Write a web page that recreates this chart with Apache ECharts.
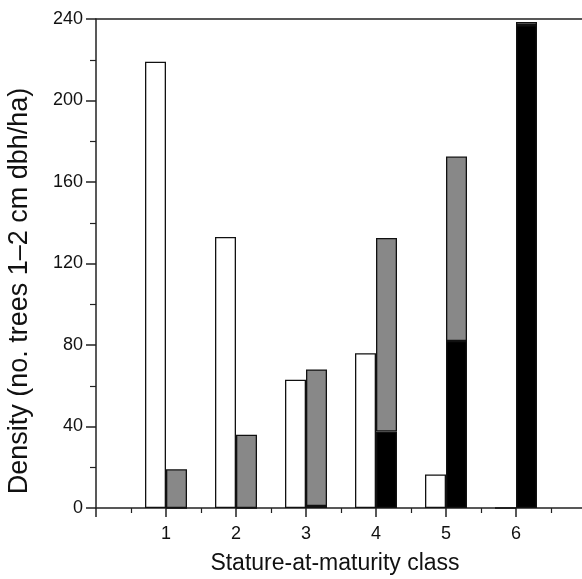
<!DOCTYPE html>
<html>
<head>
<meta charset="utf-8">
<script src="https://cdn.jsdelivr.net/npm/echarts@6/dist/echarts.min.js"></script>
<style>
  html, body { margin: 0; padding: 0; background: #fff; }
  #grafico { width: 582px; height: 579px; }
</style>
</head>
<body>
<div id="grafico"></div>
<script>
// classes de porte na maturidade
var classes = [1, 2, 3, 4, 5, 6];
// barras brancas (esquerda)
var valoresBrancos = [219, 133, 63, 76, 16.5, 0];
// barra empilhada (direita): parte preta embaixo, cinza em cima
var valoresPretos = [0, 0, 1, 37.5, 82, 237];
var valoresCinzas = [19, 36, 67, 95, 90.5, 1.5];
var yTicks = [0, 40, 80, 120, 160, 200, 240];

var deslocamento = 0.15; // metade da largura de cada barra, em unidades de classe

function montaDados(valores, lado) {
    // [valor, posição]: o valor vem primeiro para o stack acontecer no eixo y
    return classes.map(function (c, i) {
        return [valores[i], c + lado * deslocamento];
    });
}

var myChart = echarts.init(document.getElementById('grafico'));

var fonte = 'Liberation Sans, Arial, sans-serif';
var corEixo = '#222';

var option = {
    animation: false,
    textStyle: { fontFamily: fonte, color: '#111' },
    grid: { left: 96, top: 19, width: 490, height: 489, outerBoundsMode: 'none', containLabel: false },
    xAxis: [{
        type: 'value',
        min: 0,
        max: 7,
        interval: 1,
        position: 'bottom',
        axisLine: { show: true, lineStyle: { color: corEixo, width: 1.5 } },
        axisTick: { show: true, length: 9, lineStyle: { color: corEixo, width: 1.5 } },
        minorTick: { show: true, splitNumber: 2, length: 5, lineStyle: { color: corEixo, width: 1.2 } },
        splitLine: { show: false },
        axisLabel: {
            margin: 17,
            fontSize: 18,
            color: '#111',
            formatter: function (v) { return classes.indexOf(v) >= 0 ? String(v) : ''; }
        }
    }, {
        type: 'value',
        min: 0,
        max: 7,
        position: 'top',
        axisLine: { show: true, lineStyle: { color: corEixo, width: 1.5 } },
        axisTick: { show: false },
        axisLabel: { show: false },
        splitLine: { show: false }
    }],
    yAxis: {
        type: 'value',
        min: yTicks[0],
        max: yTicks[yTicks.length - 1],
        interval: 40,
        axisLine: { show: true, lineStyle: { color: corEixo, width: 1.5 } },
        axisTick: { show: true, length: 10, lineStyle: { color: corEixo, width: 1.5 } },
        minorTick: { show: true, splitNumber: 2, length: 6, lineStyle: { color: corEixo, width: 1.2 } },
        splitLine: { show: false },
        axisLabel: { margin: 13, fontSize: 18, color: '#111' }
    },
    graphic: [{
        type: 'text',
        x: 335,
        y: 564,
        style: {
            text: 'Stature-at-maturity class',
            font: '23px ' + fonte,
            fill: '#111',
            align: 'center',
            verticalAlign: 'middle'
        }
    }, {
        type: 'text',
        x: 20,
        y: 291,
        rotation: Math.PI / 2,
        style: {
            text: 'Density (no. trees 1\u20132 cm dbh/ha)',
            font: '27px ' + fonte,
            fill: '#111',
            align: 'center',
            verticalAlign: 'middle'
        }
    }],
    series: [{
        name: 'branco',
        type: 'bar',
        stack: 'esq',
        barWidth: 21,
        barGap: '-100%',
        encode: { x: 1, y: 0 },
        itemStyle: { color: '#fff', borderColor: '#111', borderWidth: 1.3 },
        data: montaDados(valoresBrancos, -1)
    }, {
        name: 'preto',
        type: 'bar',
        stack: 'dir',
        barWidth: 21,
        barGap: '-100%',
        encode: { x: 1, y: 0 },
        itemStyle: { color: '#000', borderColor: '#111', borderWidth: 1.3 },
        data: montaDados(valoresPretos, 1)
    }, {
        name: 'cinza',
        type: 'bar',
        stack: 'dir',
        barWidth: 21,
        barGap: '-100%',
        encode: { x: 1, y: 0 },
        itemStyle: { color: '#888', borderColor: '#111', borderWidth: 1.3 },
        data: montaDados(valoresCinzas, 1)
    }]
};

myChart.setOption(option);
</script>
</body>
</html>
